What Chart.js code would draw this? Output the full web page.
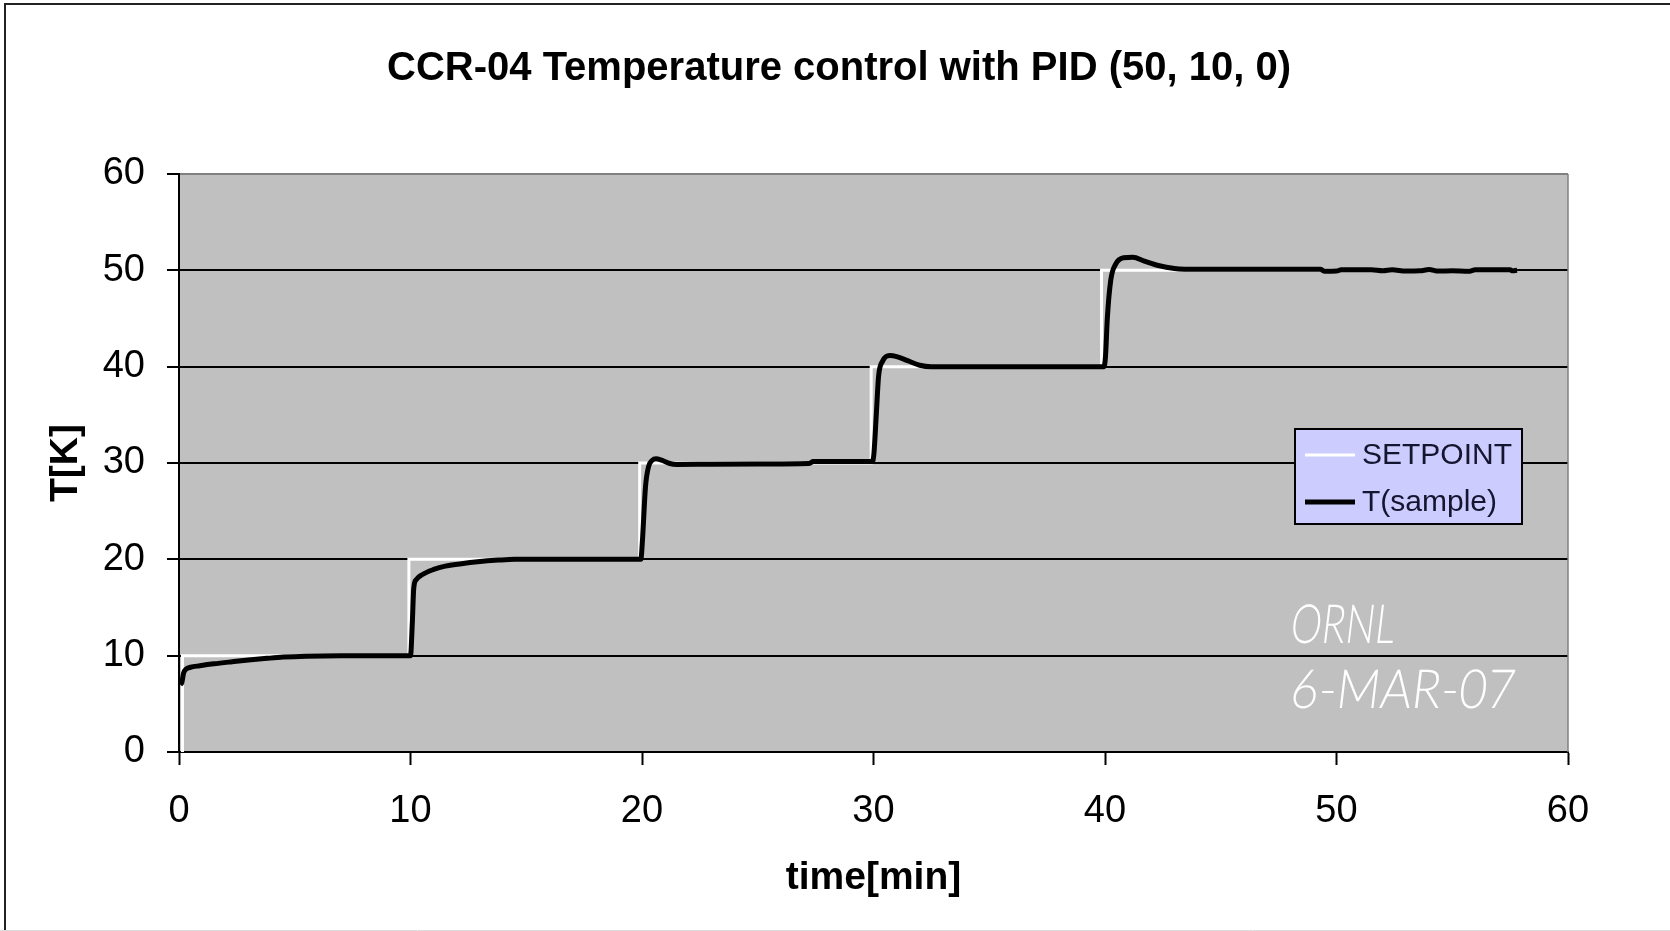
<!DOCTYPE html>
<html>
<head>
<meta charset="utf-8">
<title>CCR-04 Temperature control with PID (50, 10, 0)</title>
<script src="https://cdn.jsdelivr.net/npm/chart.js@4.4.1/dist/chart.umd.min.js"></script>
<style>
  html, body { margin: 0; padding: 0; background: #fff; }
  #grafico { display: block; }
</style>
</head>
<body>
<canvas id="grafico" width="1670" height="931" style="width:1670px;height:931px"></canvas>
<script>
// Setpoint (step changes every 10 min)
const setpointTime = [0.15, 0.15, 9.93, 9.93, 19.9, 19.9, 29.9, 29.9, 39.85, 39.85, 57.8];
const setpointTemp = [0, 10, 10, 20, 20, 30, 30, 40, 40, 50, 50];

// Sample temperature
const sampleTime = [
  0.05, 0.12, 0.2, 0.3, 0.5, 0.9, 1.5, 2.3, 3.0, 3.8, 4.5, 5.5, 7.0, 10.0,
  10.08, 10.14, 10.25, 10.5, 11.0, 11.5, 12.2, 12.9, 13.8, 14.5, 19.95,
  20.02, 20.15, 20.28, 20.45, 20.6, 20.85, 21.2, 21.5, 23.0, 25.0, 27.2, 27.4, 29.95,
  30.02, 30.12, 30.22, 30.4, 30.7, 31.0, 31.5, 32.0, 32.5, 39.95,
  40.02, 40.1, 40.25, 40.45, 40.8, 41.2, 41.7, 42.3, 43.0, 44.0,
  49.3, 49.5, 50.0, 50.2, 51.5, 52.0, 52.4, 53.0, 53.6, 54.0, 54.4, 55.0, 55.7, 56.0, 57.5, 57.6, 57.8
];
const sampleTemp = [
  7.0, 7.2, 8.2, 8.6, 8.8, 8.95, 9.15, 9.37, 9.55, 9.72, 9.85, 9.95, 10.0, 10.0,
  13.5, 17.0, 17.9, 18.4, 18.95, 19.3, 19.55, 19.75, 19.92, 20.0, 20.0,
  22.0, 27.5, 29.6, 30.3, 30.45, 30.3, 29.95, 29.85, 29.88, 29.9, 29.95, 30.15, 30.15,
  31.0, 35.0, 39.0, 40.6, 41.15, 41.05, 40.6, 40.15, 40.0, 40.0,
  41.0, 45.0, 49.0, 50.6, 51.3, 51.35, 50.95, 50.5, 50.2, 50.1,
  50.1, 49.9, 49.92, 50.05, 50.05, 49.95, 50.05, 49.93, 49.95, 50.08, 49.92, 49.95, 49.9, 50.05, 50.05, 49.95, 50.0
];

const xTicks = [0, 10, 20, 30, 40, 50, 60];
const yTicks = [0, 10, 20, 30, 40, 50, 60];
const stampLines = ['ORNL', '6-MAR-07'];

const fuente = '"Liberation Sans", Arial, sans-serif';
Chart.defaults.font.family = fuente;
Chart.defaults.color = '#000';

// Gray plot area and the outer frame
const fondoGrafico = {
  id: 'fondoGrafico',
  beforeDraw(chart) {
    const {ctx, chartArea} = chart;
    ctx.save();
    ctx.fillStyle = '#C0C0C0';
    ctx.fillRect(chartArea.left, chartArea.top, chartArea.right - chartArea.left, chartArea.bottom - chartArea.top);
    ctx.strokeStyle = '#222';
    ctx.lineWidth = 2;
    ctx.beginPath();
    ctx.moveTo(5, 931);
    ctx.lineTo(5, 4);
    ctx.lineTo(1670, 4);
    ctx.stroke();
    ctx.strokeStyle = '#ddd';
    ctx.lineWidth = 1;
    ctx.beginPath();
    ctx.moveTo(0, 930.5);
    ctx.lineTo(1670, 930.5);
    ctx.stroke();
    ctx.restore();
  },
  afterDraw(chart) {
    const {ctx, chartArea} = chart;
    ctx.save();
    // right edge of plot area
    ctx.strokeStyle = '#808080';
    ctx.lineWidth = 1.5;
    ctx.beginPath();
    ctx.moveTo(chartArea.right, chartArea.top);
    ctx.lineTo(chartArea.right, chartArea.bottom);
    ctx.stroke();
    ctx.restore();
  }
};

// Excel style legend box inside the plot
const leyendaCaja = {
  id: 'leyendaCaja',
  afterDraw(chart) {
    const ctx = chart.ctx;
    const x0 = 1295, y0 = 429, w = 227, h = 95;
    ctx.save();
    ctx.fillStyle = '#CCCCFF';
    ctx.fillRect(x0, y0, w, h);
    ctx.strokeStyle = '#000';
    ctx.lineWidth = 2;
    ctx.strokeRect(x0, y0, w, h);
    const filas = [455, 502];
    chart.data.datasets.forEach((ds, i) => {
      const y = filas[i];
      ctx.strokeStyle = ds.borderColor;
      ctx.lineWidth = ds.borderWidth;
      ctx.beginPath();
      ctx.moveTo(x0 + 10, y);
      ctx.lineTo(x0 + 60, y);
      ctx.stroke();
      ctx.fillStyle = '#151530';
      ctx.font = '30px ' + fuente;
      ctx.textBaseline = 'middle';
      ctx.textAlign = 'left';
      ctx.fillText(ds.label, x0 + 67, y + 1);
    });
    ctx.restore();
  }
};

// White hand written stamp
const sello = {
  id: 'sello',
  afterDraw(chart) {
    const ctx = chart.ctx;
    ctx.save();
    ctx.fillStyle = '#fff';
    ctx.font = '300 54px Lato, "DejaVu Sans", sans-serif';
    ctx.textBaseline = 'alphabetic';
    const bases = [643, 708];
    const anchos = [104, 224];
    stampLines.forEach((txt, i) => {
      const medida = ctx.measureText(txt).width;
      const sx = anchos[i] / medida;
      ctx.save();
      ctx.setTransform(sx, 0, -0.12, 1, 1289, bases[i]);
      ctx.fillText(txt, 0, 0);
      ctx.restore();
    });
    ctx.restore();
  }
};

const puntos = (xs, ys) => xs.map((x, i) => ({x: x, y: ys[i]}));

const ctx = document.getElementById('grafico').getContext('2d');
const chart = new Chart(ctx, {
  type: 'scatter',
  data: {
    datasets: [
      { label: 'SETPOINT',
        data: puntos(setpointTime, setpointTemp),
        showLine: true,
        borderColor: '#FFFFFF',
        borderWidth: 3,
        pointRadius: 0,
        tension: 0,
        order: 1
      },
      { label: 'T(sample)',
        data: puntos(sampleTime, sampleTemp),
        showLine: true,
        borderColor: '#000000',
        borderWidth: 5,
        pointRadius: 0,
        cubicInterpolationMode: 'monotone',
        order: 0
      }
    ]
  },
  options: {
    responsive: false,
    animation: false,
    layout: { padding: { left: 8, right: 0, top: 0, bottom: 0 } },
    plugins: {
      legend: { display: false },
      tooltip: { enabled: false },
      title: {
        display: true,
        text: 'CCR-04 Temperature control with PID (50, 10, 0)',
        color: '#000',
        font: { size: 40, weight: 'bold' },
        padding: { top: 45, bottom: 81 }
      }
    },
    scales: {
      x: {
        type: 'linear',
        min: 0,
        max: 60,
        afterFit: (s) => { s.height = 179; },
        afterBuildTicks: (s) => { s.ticks = xTicks.map(v => ({value: v})); },
        ticks: { font: { size: 38 }, padding: 24, color: '#000' },
        grid: { drawOnChartArea: false, drawTicks: true, tickLength: 13, tickColor: '#000', tickWidth: 2 },
        border: { color: '#000', width: 2 },
        title: {
          display: true,
          text: 'time[min]',
          color: '#000',
          font: { size: 39, weight: 'bold' },
          padding: { top: 0, bottom: 29.6 }
        }
      },
      y: {
        type: 'linear',
        min: 0,
        max: 60,
        afterFit: (s) => { s.width = 171; },
        afterBuildTicks: (s) => { s.ticks = yTicks.map(v => ({value: v})); },
        ticks: { font: { size: 38 }, padding: 22, color: '#000' },
        grid: {
          color: (c) => c.tick && c.tick.value === 60 ? '#808080' : (c.tick && c.tick.value === 0 ? 'rgba(0,0,0,0)' : '#000'),
          lineWidth: 2,
          tickLength: 12,
          tickColor: '#000',
          tickWidth: 2
        },
        border: { color: '#000', width: 2 },
        title: {
          display: true,
          text: 'T[K]',
          color: '#000',
          font: { size: 39, weight: 'bold' },
          padding: { top: 35, bottom: 0 }
        }
      },
      // empty right margin, keeps the title centred on the whole picture
      margenDerecho: {
        type: 'linear',
        position: 'right',
        display: true,
        afterFit: (s) => { s.width = 102; },
        ticks: { display: false },
        grid: { display: false },
        border: { display: false }
      }
    }
  },
  plugins: [fondoGrafico, leyendaCaja, sello]
});
</script>
</body>
</html>
